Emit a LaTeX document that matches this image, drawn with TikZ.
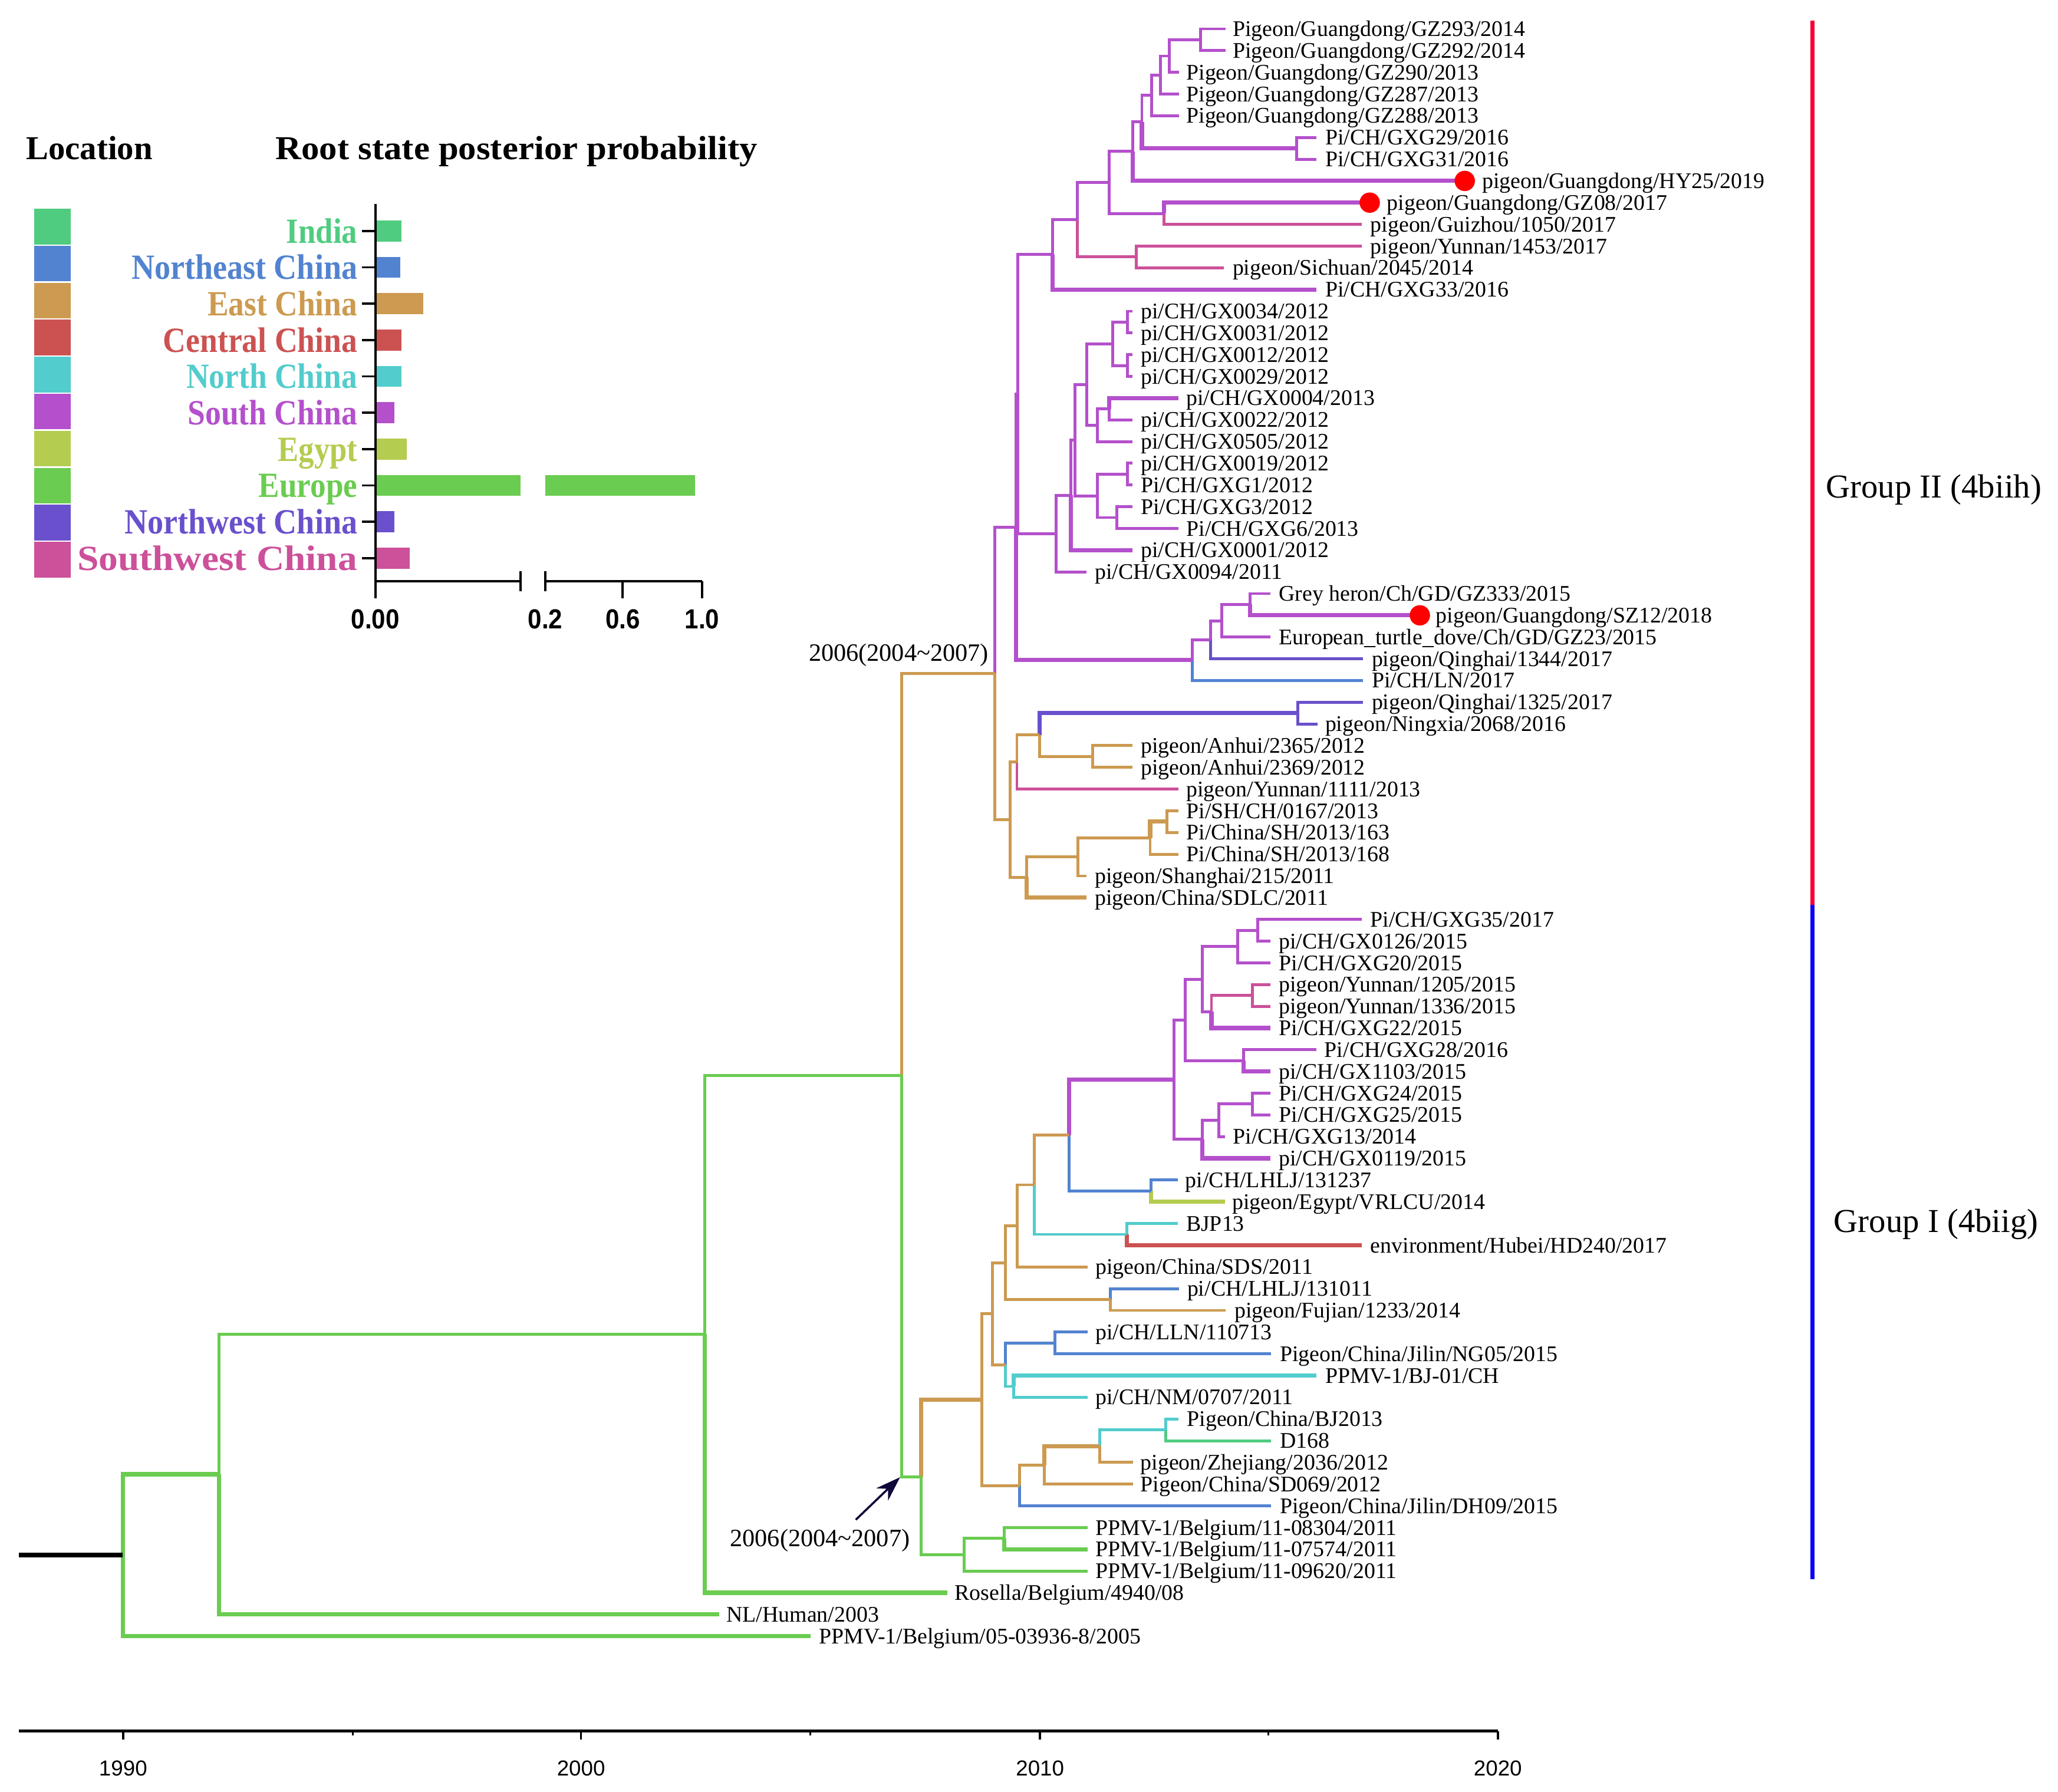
\documentclass[tikz,border=0pt]{standalone}
\usepackage{fontspec}
\setmainfont{Liberation Serif}
\newfontfamily\sansf{Liberation Sans}
\usepackage{graphicx}
\usetikzlibrary{calc,arrows.meta}
\definecolor{cIN}{HTML}{50CC80}
\definecolor{cNE}{HTML}{5283D0}
\definecolor{cE}{HTML}{CC9A50}
\definecolor{cC}{HTML}{CC5252}
\definecolor{cN}{HTML}{52CCCC}
\definecolor{cS}{HTML}{B450CC}
\definecolor{cEG}{HTML}{B4CC50}
\definecolor{cEU}{HTML}{6ACC50}
\definecolor{cNW}{HTML}{6A50CC}
\definecolor{cSW}{HTML}{CC509A}
\definecolor{cGR}{HTML}{F50032}
\definecolor{cGB}{HTML}{0A00F5}
\definecolor{cArr}{HTML}{10083A}
\newcommand\lf[5]{\coordinate (#1) at (#2,{22+16.55*(#3-1)}); \node[lbl] (#1t) at ([xshift=#4pt]#1) {#5};}
\newcommand\inode[4]{\path let \p1=(#3),\p2=(#4) in coordinate (#1) at (#2pt,{0.5*(\y1+\y2)});}
\newcommand\edg[3]{\draw[#1] (#2) |- (#3);}
\begin{document}
\begin{tikzpicture}[x=1pt,y=-1pt,
  lbl/.style={anchor=west, inner sep=0pt, text height=11.3pt, text depth=0pt, font=\fontsize{17}{17}\selectfont},
  br/.style={line width=2.2pt},
  thk/.style={line width=3.2pt},
  bS/.style={br, draw=cS}, bSW/.style={br, draw=cSW}, bE/.style={br, draw=cE},
  bC/.style={br, draw=cC}, bN/.style={br, draw=cN}, bNE/.style={br, draw=cNE},
  bNW/.style={br, draw=cNW}, bIN/.style={br, draw=cIN}, bEG/.style={br, draw=cEG},
  bEU/.style={br, draw=cEU},
  dot/.style={circle, fill=red, inner sep=0pt, minimum size=15.5pt},
  sq/.style={rectangle, inner sep=0pt, minimum width=28pt, minimum height=27.2pt},
  legl/.style={anchor=east, inner sep=0pt, text height=18.25pt, text depth=0pt, font=\bfseries\fontsize{27}{27}\selectfont},
  hdr/.style={anchor=west, inner sep=0pt, text height=17.2pt, text depth=0pt, font=\bfseries\fontsize{25.5}{25.5}\selectfont},
  grp/.style={anchor=west, inner sep=0pt, text height=16.9pt, text depth=0pt, font=\fontsize{25.5}{25.5}\selectfont},
  yrl/.style={inner sep=0pt, text height=11.8pt, text depth=0pt, font=\sansf\fontsize{16.5}{16.5}\selectfont},
  tkl/.style={inner sep=0pt, text height=15pt, text depth=0pt, font=\sansf\bfseries\fontsize{21}{21}\selectfont},
  dl/.style={inner sep=0pt, text height=12.6pt, text depth=0pt, font=\fontsize{19}{19}\selectfont},
  arr/.style={-{Stealth[length=19pt,width=13pt]}, line width=1.6pt, draw=cArr, fill=cArr}
]
\useasboundingbox (0,0) rectangle (1568,1365);
\fill[white] (0,0) rectangle (1568,1365);

% ---------- leaves ----------
\lf{L1}{933.6}{1}{5.5}{Pigeon/Guangdong/GZ293/2014}
\lf{L2}{933.6}{2}{5.5}{Pigeon/Guangdong/GZ292/2014}
\lf{L3}{898.2}{3}{5.5}{Pigeon/Guangdong/GZ290/2013}
\lf{L4}{898.2}{4}{5.5}{Pigeon/Guangdong/GZ287/2013}
\lf{L5}{898.2}{5}{5.5}{Pigeon/Guangdong/GZ288/2013}
\lf{L6}{1003}{6}{6.5}{Pi/CH/GXG29/2016}
\lf{L7}{1003}{7}{6.5}{Pi/CH/GXG31/2016}
\lf{L8}{1116}{8}{13}{pigeon/Guangdong/HY25/2019}
\lf{L9}{1043.6}{9}{13}{pigeon/Guangdong/GZ08/2017}
\lf{L10}{1037.5}{10}{6.5}{pigeon/Guizhou/1050/2017}
\lf{L11}{1037.5}{11}{6.5}{pigeon/Yunnan/1453/2017}
\lf{L12}{932.5}{12}{6.5}{pigeon/Sichuan/2045/2014}
\lf{L13}{1003}{13}{6.5}{Pi/CH/GXG33/2016}
\lf{L14}{863}{14}{6}{pi/CH/GX0034/2012}
\lf{L15}{863}{15}{6}{pi/CH/GX0031/2012}
\lf{L16}{863}{16}{6}{pi/CH/GX0012/2012}
\lf{L17}{863}{17}{6}{pi/CH/GX0029/2012}
\lf{L18}{897.7}{18}{6}{pi/CH/GX0004/2013}
\lf{L19}{863}{19}{6}{pi/CH/GX0022/2012}
\lf{L20}{863}{20}{6}{pi/CH/GX0505/2012}
\lf{L21}{863}{21}{6}{pi/CH/GX0019/2012}
\lf{L22}{863}{22}{6}{Pi/CH/GXG1/2012}
\lf{L23}{863}{23}{6}{Pi/CH/GXG3/2012}
\lf{L24}{897.7}{24}{6}{Pi/CH/GXG6/2013}
\lf{L25}{863}{25}{6}{pi/CH/GX0001/2012}
\lf{L26}{828}{26}{6}{pi/CH/GX0094/2011}
\lf{L27}{967.7}{27}{6.5}{Grey heron/Ch/GD/GZ333/2015}
\lf{L28}{1081.8}{28}{12}{pigeon/Guangdong/SZ12/2018}
\lf{L29}{967.7}{29}{6.5}{European\_turtle\_dove/Ch/GD/GZ23/2015}
\lf{L30}{1038.5}{30}{6.5}{pigeon/Qinghai/1344/2017}
\lf{L31}{1038.5}{31}{6.5}{Pi/CH/LN/2017}
\lf{L32}{1038.5}{32}{6.5}{pigeon/Qinghai/1325/2017}
\lf{L33}{1004}{33}{5.5}{pigeon/Ningxia/2068/2016}
\lf{L34}{863}{34}{6}{pigeon/Anhui/2365/2012}
\lf{L35}{863}{35}{6}{pigeon/Anhui/2369/2012}
\lf{L36}{897.7}{36}{6}{pigeon/Yunnan/1111/2013}
\lf{L37}{897.7}{37}{6}{Pi/SH/CH/0167/2013}
\lf{L38}{897.7}{38}{6}{Pi/China/SH/2013/163}
\lf{L39}{897.7}{39}{6}{Pi/China/SH/2013/168}
\lf{L40}{828}{40}{6}{pigeon/Shanghai/215/2011}
\lf{L41}{828}{41}{6}{pigeon/China/SDLC/2011}
\lf{L42}{1037.5}{42}{6.5}{Pi/CH/GXG35/2017}
\lf{L43}{967.7}{43}{6.5}{pi/CH/GX0126/2015}
\lf{L44}{967.7}{44}{6.5}{Pi/CH/GXG20/2015}
\lf{L45}{967.7}{45}{6.5}{pigeon/Yunnan/1205/2015}
\lf{L46}{967.7}{46}{6.5}{pigeon/Yunnan/1336/2015}
\lf{L47}{967.7}{47}{6.5}{Pi/CH/GXG22/2015}
\lf{L48}{1003}{48}{6}{Pi/CH/GXG28/2016}
\lf{L49}{967.7}{49}{6.5}{pi/CH/GX1103/2015}
\lf{L50}{967.7}{50}{6.5}{Pi/CH/GXG24/2015}
\lf{L51}{967.7}{51}{6.5}{Pi/CH/GXG25/2015}
\lf{L52}{933.2}{52}{6}{Pi/CH/GXG13/2014}
\lf{L53}{967.7}{53}{6.5}{pi/CH/GX0119/2015}
\lf{L54}{897.5}{54}{5.5}{pi/CH/LHLJ/131237}
\lf{L55}{933.2}{55}{5.5}{pigeon/Egypt/VRLCU/2014}
\lf{L56}{897.5}{56}{6}{BJP13}
\lf{L57}{1037.5}{57}{6.5}{environment/Hubei/HD240/2017}
\lf{L58}{828.5}{58}{6}{pigeon/China/SDS/2011}
\lf{L59}{898.4}{59}{6}{pi/CH/LHLJ/131011}
\lf{L60}{934}{60}{6.5}{pigeon/Fujian/1233/2014}
\lf{L61}{828.5}{61}{6}{pi/CH/LLN/110713}
\lf{L62}{968.5}{62}{6.5}{Pigeon/China/Jilin/NG05/2015}
\lf{L63}{1003}{63}{6.5}{PPMV-1/BJ-01/CH}
\lf{L64}{828.5}{64}{6}{pi/CH/NM/0707/2011}
\lf{L65}{897.7}{65}{6.5}{Pigeon/China/BJ2013}
\lf{L66}{968.5}{66}{6.5}{D168}
\lf{L67}{863.3}{67}{5.5}{pigeon/Zhejiang/2036/2012}
\lf{L68}{863.3}{68}{5.5}{Pigeon/China/SD069/2012}
\lf{L69}{968.5}{69}{6.5}{Pigeon/China/Jilin/DH09/2015}
\lf{L70}{828.5}{70}{6}{PPMV-1/Belgium/11-08304/2011}
\lf{L71}{828.5}{71}{6}{PPMV-1/Belgium/11-07574/2011}
\lf{L72}{828.5}{72}{6}{PPMV-1/Belgium/11-09620/2011}
\lf{L73}{721.8}{73}{5.5}{Rosella/Belgium/4940/08}
\lf{L74}{547.8}{74}{5.5}{NL/Human/2003}
\lf{L75}{617.5}{75}{6.5}{PPMV-1/Belgium/05-03936-8/2005}

% ---------- internal nodes ----------
\inode{a1}{914.5}{L1}{L2}
\inode{a2}{891}{a1}{L3}
\inode{a3}{884}{a2}{L4}
\inode{a4}{877.5}{a3}{L5}
\inode{a5}{988}{L6}{L7}
\inode{a6}{870}{a4}{a5}
\inode{a7}{863}{a6}{L8}
\inode{b1}{887}{L9}{L10}
\inode{a8}{845}{a7}{b1}
\inode{b2}{865.6}{L11}{L12}
\inode{a9}{821}{a8}{b2}
\inode{a10}{802}{a9}{L13}
\inode{c1}{859}{L14}{L15}
\inode{c2}{859}{L16}{L17}
\inode{c3}{847.6}{c1}{c2}
\inode{c4}{845}{L18}{L19}
\inode{c5}{836.2}{c4}{L20}
\inode{c6}{828}{c3}{c5}
\inode{c7}{859}{L21}{L22}
\inode{c8}{851}{L23}{L24}
\inode{c9}{836.2}{c7}{c8}
\inode{c10}{819}{c6}{c9}
\inode{c11}{816}{c10}{L25}
\inode{c12}{804.7}{c11}{L26}
\inode{z1}{775.5}{a10}{c12}
\inode{d1}{952.6}{L27}{L28}
\inode{d2}{931}{d1}{L29}
\inode{d3}{922.3}{d2}{L30}
\inode{d4}{908.5}{d3}{L31}
\inode{z2}{774}{z1}{d4}
\inode{e1}{989}{L32}{L33}
\inode{e2}{832.4}{L34}{L35}
\inode{e3}{792}{e1}{e2}
\inode{e4}{774.8}{e3}{L36}
\inode{e5}{889}{L37}{L38}
\inode{e6}{876.3}{e5}{L39}
\inode{e7}{821.2}{e6}{L40}
\inode{e8}{782.3}{e7}{L41}
\inode{e9}{769.5}{e4}{e8}
\inode{g2}{758}{z2}{e9}
\inode{f1}{958.4}{L42}{L43}
\inode{f2}{943}{f1}{L44}
\inode{f3}{954.4}{L45}{L46}
\inode{f4}{923}{f3}{L47}
\inode{f5}{916}{f2}{f4}
\inode{f6}{947.5}{L48}{L49}
\inode{f7}{902.9}{f5}{f6}
\inode{f8}{954.4}{L50}{L51}
\inode{f9}{928.6}{f8}{L52}
\inode{f10}{916}{f9}{L53}
\inode{f11}{894.3}{f7}{f10}
\inode{f12}{877}{L54}{L55}
\inode{f13}{814.4}{f11}{f12}
\inode{f14}{858.5}{L56}{L57}
\inode{f15}{788.2}{f13}{f14}
\inode{p1}{775.2}{f15}{L58}
\inode{f16}{846}{L59}{L60}
\inode{p2}{766.2}{p1}{f16}
\inode{f17}{803.9}{L61}{L62}
\inode{f18}{772.5}{L63}{L64}
\inode{f19}{766.2}{f17}{f18}
\inode{p3}{756}{p2}{f19}
\inode{f20}{888}{L65}{L66}
\inode{f21}{837.9}{f20}{L67}
\inode{f22}{795.5}{f21}{L68}
\inode{f23}{777}{f22}{L69}
\inode{p4}{748.2}{p3}{f23}
\inode{h1}{765.3}{L70}{L71}
\inode{h2}{734.7}{h1}{L72}
\inode{h3}{701.8}{p4}{h2}
\inode{g1}{686.8}{g2}{h3}
\inode{r1}{537}{g1}{L73}
\inode{r2}{167}{r1}{L74}
\inode{r3}{93.5}{r2}{L75}
\path let \p1=(r3) in coordinate (r0) at (14.4pt,\y1);

% ---------- branches ----------
\edg{bS}{a1}{L1} \edg{bS}{a1}{L2} \edg{bS}{a2}{a1} \edg{bS}{a2}{L3}
\edg{bS}{a3}{a2} \edg{bS}{a3}{L4} \edg{bS}{a4}{a3} \edg{bS}{a4}{L5}
\edg{bS}{a5}{L6} \edg{bS}{a5}{L7} \edg{bS}{a6}{a4} \edg{bS,thk}{a6}{a5}
\edg{bS}{a7}{a6} \edg{bS,thk}{a7}{L8} \edg{bS,thk}{b1}{L9} \edg{bSW}{b1}{L10}
\edg{bS}{a8}{a7} \edg{bS}{a8}{b1} \edg{bSW}{b2}{L11} \edg{bSW}{b2}{L12}
\edg{bS}{a9}{a8} \edg{bSW}{a9}{b2} \edg{bS}{a10}{a9} \edg{bS,thk}{a10}{L13}
\edg{bS}{c1}{L14} \edg{bS}{c1}{L15} \edg{bS}{c2}{L16} \edg{bS}{c2}{L17}
\edg{bS}{c3}{c1} \edg{bS}{c3}{c2} \edg{bS,thk}{c4}{L18} \edg{bS}{c4}{L19}
\edg{bS}{c5}{c4} \edg{bS}{c5}{L20} \edg{bS}{c6}{c3} \edg{bS}{c6}{c5}
\edg{bS}{c7}{L21} \edg{bS}{c7}{L22} \edg{bS}{c8}{L23} \edg{bS}{c8}{L24}
\edg{bS}{c9}{c7} \edg{bS}{c9}{c8} \edg{bS}{c10}{c6} \edg{bS}{c10}{c9}
\edg{bS}{c11}{c10} \edg{bS,thk}{c11}{L25} \edg{bS}{c12}{c11} \edg{bS}{c12}{L26}
\edg{bS}{z1}{a10} \edg{bS}{z1}{c12} \edg{bS}{z2}{z1}
\edg{bS}{d1}{L27} \edg{bS,thk}{d1}{L28} \edg{bS}{d2}{d1} \edg{bS}{d2}{L29}
\edg{bS}{d3}{d2} \edg{bNW}{d3}{L30} \edg{bS}{d4}{d3} \edg{bNE}{d4}{L31}
\edg{bS,thk}{z2}{d4}
\edg{bNW}{e1}{L32} \edg{bNW}{e1}{L33} \edg{bE}{e2}{L34} \edg{bE}{e2}{L35}
\edg{bNW,thk}{e3}{e1} \edg{bE}{e3}{e2} \edg{bE}{e4}{e3} \edg{bSW}{e4}{L36}
\edg{bE}{e5}{L37} \edg{bE}{e5}{L38} \edg{bE,thk}{e6}{e5} \edg{bE}{e6}{L39}
\edg{bE}{e7}{e6} \edg{bE}{e7}{L40} \edg{bE}{e8}{e7} \edg{bE,thk}{e8}{L41}
\edg{bE}{e9}{e4} \edg{bE}{e9}{e8} \edg{bS}{g2}{z2} \edg{bE}{g2}{e9}
\edg{bS}{f1}{L42} \edg{bS}{f1}{L43} \edg{bS}{f2}{f1} \edg{bS}{f2}{L44}
\edg{bSW}{f3}{L45} \edg{bSW}{f3}{L46} \edg{bSW}{f4}{f3} \edg{bS,thk}{f4}{L47}
\edg{bS}{f5}{f2} \edg{bS}{f5}{f4} \edg{bS}{f6}{L48} \edg{bS,thk}{f6}{L49}
\edg{bS}{f7}{f5} \edg{bS}{f7}{f6} \edg{bS}{f8}{L50} \edg{bS}{f8}{L51}
\edg{bS}{f9}{f8} \edg{bS}{f9}{L52} \edg{bS}{f10}{f9} \edg{bS,thk}{f10}{L53}
\edg{bS}{f11}{f7} \edg{bS}{f11}{f10} \edg{bNE}{f12}{L54} \edg{bEG,thk}{f12}{L55}
\edg{bS,thk}{f13}{f11} \edg{bNE}{f13}{f12} \edg{bN}{f14}{L56} \edg{bC,thk}{f14}{L57}
\edg{bE}{f15}{f13} \edg{bN}{f15}{f14} \edg{bE}{p1}{f15} \edg{bE}{p1}{L58}
\edg{bNE}{f16}{L59} \edg{bE}{f16}{L60} \edg{bE}{p2}{p1} \edg{bE}{p2}{f16}
\edg{bNE}{f17}{L61} \edg{bNE}{f17}{L62} \edg{bN,thk}{f18}{L63} \edg{bN}{f18}{L64}
\edg{bNE}{f19}{f17} \edg{bN}{f19}{f18} \edg{bE}{p3}{p2} \edg{bE}{p3}{f19}
\edg{bN}{f20}{L65} \edg{bIN}{f20}{L66} \edg{bN}{f21}{f20} \edg{bE}{f21}{L67}
\edg{bE,thk}{f22}{f21} \edg{bE}{f22}{L68} \edg{bE}{f23}{f22} \edg{bNE}{f23}{L69}
\edg{bE}{p4}{p3} \edg{bE}{p4}{f23}
\edg{bEU}{h1}{L70} \edg{bEU,thk}{h1}{L71} \edg{bEU}{h2}{h1} \edg{bEU}{h2}{L72}
\edg{bE,thk}{h3}{p4} \edg{bEU}{h3}{h2} \edg{bE}{g1}{g2} \edg{bEU}{g1}{h3}
\edg{bEU}{r1}{g1} \edg{bEU,thk}{r1}{L73} \edg{bEU}{r2}{r1} \edg{bEU,thk}{r2}{L74}
\edg{bEU,thk}{r3}{r2} \edg{bEU,thk}{r3}{L75}
\draw[line width=3.6pt, black] (r0) -- (r3);

% ---------- red dots ----------
\node[dot] (dot8) at (L8) {};
\node[dot] (dot9) at (L9) {};
\node[dot] (dot28) at (L28) {};

% ---------- date labels & arrow ----------
\node[dl] (date1) at (684.7,497.3) {2006(2004\textasciitilde2007)};
\node[dl] (date2) at (624.7,1172) {2006(2004\textasciitilde2007)};
\coordinate (arT) at (652,1158);
\coordinate (arH) at (g1 |- h3);
\draw[arr] (arT) -- ([xshift=-1pt]arH);

% ---------- group bars ----------
\coordinate (gA) at (1381,15.7);
\coordinate (gB) at (1381,689.5);
\coordinate (gC) at (1381,1203.3);
\draw[line width=3pt, cGR] (gA) -- (gB);
\draw[line width=3pt, cGB] (gB) -- (gC);
\node[grp] (grp2) at (1391,371) {Group II (4biih)};
\node[grp] (grp1) at (1397,930.5) {Group I (4biig)};

% ---------- time axis ----------
\draw[line width=2pt] (14.4,1319) -- (1141.2,1319);
\foreach \x/\yr in {93.8/1990, 442.7/2000, 792.4/2010, 1141.2/2020} {
  \draw[line width=1.6pt] (\x,1319) -- (\x,1325.5);
  \node[yrl] (yr\yr) at (\x,1347) {\yr};
}
\foreach \x in {268.7,617.5,966.4} \draw[line width=1.4pt] (\x,1319) -- (\x,1322.5);

% ---------- legend ----------
\node[hdr] (hLoc) at (19.7,113) {Location};
\node[hdr] (hRoot) at (209.8,113) {\scalebox{1.07}[1]{Root state posterior probability}};
\foreach \i/\lab/\col/\bl/\sx in {0/India/cIN/306/0.88, 1/Northeast China/cNE/305/0.9, 2/East China/cE/322.5/0.89, 3/Central China/cC/306/0.893, 4/North China/cN/306/0.891, 5/South China/cS/300.5/0.893, 6/Egypt/cEG/310/0.877, 7/Europe/cEU/396.6/0.884, 8/Northwest China/cNW/300.5/0.9, 9/Southwest China/cSW/312/1.09} {
  \node[sq, fill=\col] (sq\i) at (40,{172.6+28.2*\i}) {};
  \fill[\col] (286.8,{176+27.7*\i-8}) rectangle (\bl,{176+27.7*\i+8});
  \draw[line width=1.6pt] (276,{176+27.7*\i}) -- (286,{176+27.7*\i});
  \node[legl, text=\col] (lg\i) at (272.5,{176+27.7*\i}) {\scalebox{\sx}[1]{\lab}};
}
\fill[cEU] (415.5,{176+27.7*7-8}) rectangle (529.7,{176+27.7*7+8});
\draw[line width=1.8pt] (286,155.6) -- (286,456);
\draw[line width=1.8pt] (286,443) -- (396.6,443);
\draw[line width=1.8pt] (396.6,435.3) -- (396.6,450.3);
\draw[line width=1.8pt] (415.5,435.3) -- (415.5,450.3);
\draw[line width=1.8pt] (415.5,443) -- (535,443);
\draw[line width=1.8pt] (474.5,443) -- (474.5,456);
\draw[line width=1.8pt] (535,443) -- (535,456);
\node[tkl] (tk0) at (286,471.5) {\scalebox{0.9}[1]{0.00}};
\node[tkl] (tk1) at (415.5,471.5) {\scalebox{0.9}[1]{0.2}};
\node[tkl] (tk2) at (474.5,471.5) {\scalebox{0.9}[1]{0.6}};
\node[tkl] (tk3) at (535,471.5) {\scalebox{0.9}[1]{1.0}};
\end{tikzpicture}
\end{document}
